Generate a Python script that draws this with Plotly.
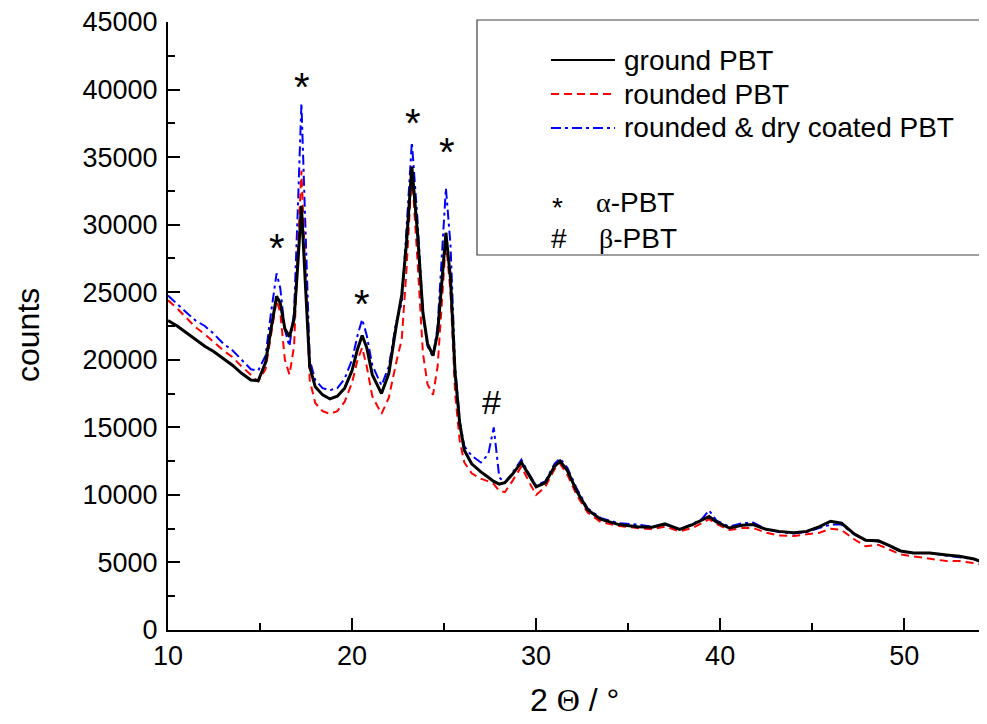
import plotly.graph_objects as go

# 2-theta grid (degrees)
two_theta = [10.0, 10.5, 11.0, 11.5, 12.0, 12.5, 13.0, 13.5, 14.0, 14.5, 14.9, 15.3, 15.6, 15.9, 16.1,
             16.35, 16.6, 16.85, 17.05, 17.25, 17.45, 17.7, 18.0, 18.4, 18.8, 19.2, 19.6, 20.0, 20.3,
             20.55, 20.8, 21.1, 21.6, 22.0, 22.4, 22.7, 22.95, 23.25, 23.55, 23.85, 24.1, 24.4, 24.65,
             24.9, 25.1, 25.35, 25.6, 25.85, 26.1, 26.5, 27.0, 27.4, 27.7, 28.0, 28.3, 28.7, 29.2, 29.6,
             30.0, 30.5, 31.0, 31.3, 31.7, 32.2, 32.8, 33.5, 34.5, 35.5, 36.3, 37.0, 37.8, 38.5, 39.0,
             39.4, 39.8, 40.5, 41.2, 41.8, 42.5, 43.2, 44.0, 44.7, 45.4, 46.0, 46.6, 47.3, 47.9, 48.6,
             49.2, 49.8, 50.5, 51.4, 52.3, 53.0, 53.8, 54.6]

ground_pbt = [22900, 22500, 22000, 21500, 21000, 20600, 20100, 19600, 19000, 18500, 18450, 19800, 22300,
              24700, 24200, 22300, 21700, 23000, 27000, 31400, 26000, 19500, 18000, 17400, 17100, 17300,
              17900, 19200, 20800, 21800, 20900, 18900, 17500, 19000, 22500, 24800, 28500, 34300, 29500,
              23500, 21200, 20300, 22000, 26500, 29400, 26000, 19000, 15300, 13300, 12300, 11700, 11300,
              11000, 10800, 10900, 11500, 12400, 11500, 10600, 10900, 12100, 12500, 11800, 10300, 8900,
              8200, 7800, 7650, 7600, 7850, 7450, 7800, 8100, 8400, 8000, 7550, 7750, 7800, 7450, 7300,
              7200, 7300, 7650, 8050, 7900, 7100, 6650, 6600, 6250, 5850, 5700, 5700, 5550, 5450, 5250,
              4850]

rounded_pbt = [24400, 23800, 23100, 22400, 21900, 21300, 20700, 20200, 19500, 18900, 18400, 19300, 21800,
               24400, 23500, 20000, 18900, 21000, 28000, 34000, 27000, 18500, 16800, 16200, 16000, 16200,
               16900, 18300, 20000, 20900, 19500, 17300, 16000, 17200, 19800, 21500, 26500, 33900, 27500,
               20500, 18200, 17400, 19500, 25000, 28800, 25000, 17500, 14000, 12400, 11600, 11200, 11000,
               10800, 10300, 10200, 11000, 12100, 11000, 10000, 10600, 11900, 12300, 11500, 10000, 8700,
               8000, 7700, 7550, 7450, 7650, 7300, 7550, 7900, 8200, 7850, 7400, 7550, 7550, 7200, 7000,
               6950, 7050, 7200, 7500, 7400, 6700, 6200, 6300, 5950, 5600, 5450, 5300, 5100, 5100, 4950,
               4700]

coated_pbt = [24750, 24100, 23500, 22900, 22500, 21900, 21200, 20700, 20000, 19300, 19200, 20300, 23500,
              26400, 25300, 22200, 21000, 23500, 31000, 39000, 30500, 20000, 18500, 17900, 17750, 17900,
              18600, 20000, 21800, 23000, 21800, 19600, 18100, 19500, 22800, 24200, 29500, 36100, 30500,
              23500, 21000, 20200, 22500, 28500, 32700, 28500, 19500, 15500, 13600, 12900, 12400, 13000,
              15000, 11300, 10900, 11600, 12600, 11600, 10700, 11000, 12300, 12700, 12000, 10500, 9000,
              8300, 7900, 7800, 7650, 7800, 7450, 7850, 8200, 8850, 8100, 7650, 7900, 7950, 7450, 7250,
              7150, 7250, 7550, 7800, 7800, 7050, 6650, 6550, 6250, 5800, 5700, 5700, 5500, 5400, 5250,
              4850]

series_names = ["ground PBT", "rounded PBT", "rounded & dry coated PBT"]
series_colors = ["#000000", "#ff0000", "#0000ff"]
series_dash = ["solid", "8px,5px", "10px,4px,3px,4px"]

# peak markers: (2theta, counts, symbol)
peak_x = [15.9, 17.27, 20.56, 23.3, 25.17, 27.58]
peak_y = [28580, 40480, 24400, 37800, 35660, 16900]
peak_sym = ["*", "*", "*", "*", "*", "#"]

x_range = [10, 54.5]
y_range = [0, 45000]

FONT = "Liberation Sans, Arial, sans-serif"

# page body has an 8px margin -> figure is offset by 8px
OFF = 8
W, H = 979, 716
L, R, T, B = 160, 0, 14, 94
pw, ph = W - L - R, H - T - B


def px2paper(x):  # page x -> paper
    return (x - OFF - L) / pw


def py2paper(y):  # page y -> paper
    return (H - B - (y - OFF)) / ph


fig = go.Figure()
for idx, ys, width in [(2, coated_pbt, 2), (1, rounded_pbt, 2), (0, ground_pbt, 3)]:
    fig.add_trace(go.Scatter(x=two_theta, y=ys, mode="lines", name=series_names[idx],
                             line=dict(color=series_colors[idx], width=width, dash=series_dash[idx])))

for px_, py_, s in zip(peak_x, peak_y, peak_sym):
    fig.add_annotation(x=px_, y=py_, text=s, showarrow=False,
                       font=dict(size=40 if s == "*" else 34, color="black", family=FONT),
                       yshift=-4 if s == "*" else 0)

# legend box
fig.add_shape(type="rect", xref="paper", yref="paper",
              x0=px2paper(477), x1=px2paper(1010), y0=py2paper(255), y1=py2paper(20),
              line=dict(color="#404040", width=1.2), fillcolor="white", layer="above")

legend_rows = [(60, 0), (94, 1), (128, 2)]
for ypix, idx in legend_rows:
    fig.add_shape(type="line", xref="paper", yref="paper",
                  x0=px2paper(551), x1=px2paper(615), y0=py2paper(ypix), y1=py2paper(ypix),
                  line=dict(color=series_colors[idx], width=2, dash=series_dash[idx]), layer="above")
    fig.add_annotation(xref="paper", yref="paper", x=px2paper(622), y=py2paper(ypix),
                       text=series_names[idx], showarrow=False, xanchor="left", yanchor="middle",
                       font=dict(size=28, color="black", family=FONT))

fig.add_annotation(xref="paper", yref="paper", x=px2paper(557), y=py2paper(202), text="*",
                   showarrow=False, xanchor="center", yanchor="middle",
                   font=dict(size=28, color="black", family=FONT), yshift=-5)
fig.add_annotation(xref="paper", yref="paper", x=px2paper(594), y=py2paper(202),
                   text="<span style='font-family:Liberation Serif'>α</span>-PBT",
                   showarrow=False, xanchor="left", yanchor="middle",
                   font=dict(size=28, color="black", family=FONT))
fig.add_annotation(xref="paper", yref="paper", x=px2paper(559), y=py2paper(238), text="#",
                   showarrow=False, xanchor="center", yanchor="middle",
                   font=dict(size=28, color="black", family=FONT))
fig.add_annotation(xref="paper", yref="paper", x=px2paper(597), y=py2paper(238),
                   text="<span style='font-family:Liberation Serif'>β</span>-PBT",
                   showarrow=False, xanchor="left", yanchor="middle",
                   font=dict(size=28, color="black", family=FONT))

# axis titles
fig.add_annotation(xref="paper", yref="paper", x=px2paper(574), y=py2paper(700),
                   text="2 <span style='font-family:Liberation Serif'>Θ</span> / °",
                   showarrow=False, xanchor="center", yanchor="middle",
                   font=dict(size=32, color="black", family=FONT))
fig.add_annotation(xref="paper", yref="paper", x=px2paper(28), y=py2paper(335), text="counts",
                   showarrow=False, xanchor="center", yanchor="middle", textangle=-90,
                   font=dict(size=32, color="black", family=FONT))

axis_common = dict(showgrid=False, zeroline=False, showline=True, linecolor="black", linewidth=2,
                   ticks="inside", ticklen=12, tickwidth=2, tickcolor="black",
                   ticklabeloverflow="allow",
                   tickfont=dict(size=27, color="black", family=FONT))

fig.update_xaxes(range=x_range, dtick=10, tick0=10, tickformat="d",
                 minor=dict(ticks="inside", ticklen=7, tickwidth=2, tickcolor="black", dtick=5, tick0=10),
                 ticklabelstandoff=1, **axis_common)
fig.update_yaxes(range=y_range, dtick=5000, tick0=0, tickformat="d",
                 minor=dict(ticks="inside", ticklen=7, tickwidth=2, tickcolor="black", dtick=2500, tick0=0),
                 ticklabelstandoff=3, **axis_common)

fig.update_layout(width=W, height=H, margin=dict(l=L, r=R, t=T, b=B, pad=0, autoexpand=False),
                  plot_bgcolor="white", paper_bgcolor="white", showlegend=False,
                  font=dict(family=FONT, color="black"))

fig.write_html("out.html")
